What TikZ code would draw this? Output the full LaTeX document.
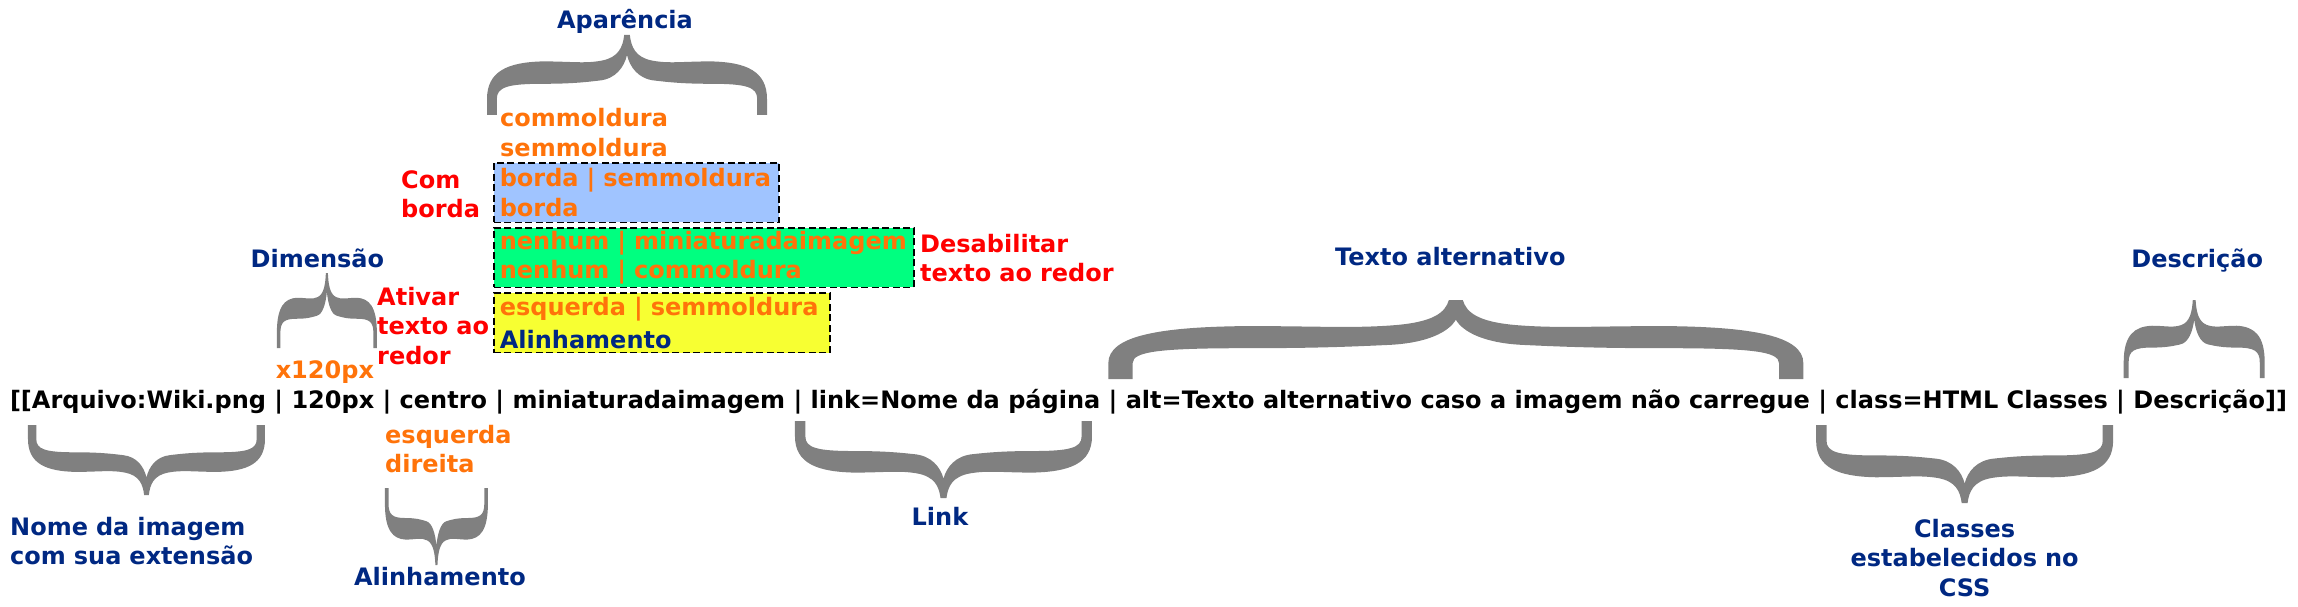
\documentclass[tikz,border=0pt]{standalone}
\usepackage{fontspec}
\setmainfont{DejaVu Sans}
\usepackage{tikz}
\usetikzlibrary{positioning}
\definecolor{azul}{RGB}{0,40,130}
\definecolor{laranja}{RGB}{255,115,10}
\definecolor{vermelho}{RGB}{255,0,0}
\definecolor{cinza}{RGB}{128,128,128}
\definecolor{azulclaro}{RGB}{160,196,255}
\definecolor{verde}{RGB}{0,255,128}
\definecolor{amarelo}{RGB}{247,255,50}
\newcommand{\fonte}{\bfseries\fontsize{24}{29.5}\selectfont}
\newcommand{\barra}{~|~\null}
\tikzstyle{linha} = [inner sep=0pt, outer sep=0pt, font=\fonte]
\tikzstyle{rotulo} = [inner sep=0pt, font=\fonte, text=azul]
\tikzstyle{opcao} = [inner sep=0pt, font=\fonte, text=laranja, align=left]
\tikzstyle{nota} = [inner sep=0pt, font=\fonte, text=vermelho, align=left]
\tikzstyle{caixa} = [draw, line width=1.6pt, dash pattern=on 7pt off 3.5pt, inner xsep=6pt, inner ysep=0pt, minimum height=59.5pt, anchor=north west, font=\fonte, text=laranja, align=left]
\tikzset{chave/.pic={
    \fill[cinza] (-1,0) -- (-1,0.2) .. controls (-1,0.55) and (-0.85,0.66) .. (-0.6,0.67) .. controls (-0.4,0.67) and (-0.3,0.64) .. (-0.18,0.68) .. controls (-0.06,0.72) and (-0.03,0.85) .. (-0.02,1) -- (0.02,1) .. controls (0.03,0.85) and (0.06,0.72) .. (0.18,0.68) .. controls (0.3,0.64) and (0.4,0.67) .. (0.6,0.67) .. controls (0.85,0.66) and (1,0.55) .. (1,0.2) -- (1,0) -- (0.93,0) -- (0.93,0.2) .. controls (0.93,0.35) and (0.85,0.39) .. (0.6,0.39) .. controls (0.4,0.39) and (0.3,0.41) .. (0.2,0.43) .. controls (0.08,0.45) and (0.02,0.6) .. (0,0.75) .. controls (-0.02,0.6) and (-0.08,0.45) .. (-0.2,0.43) .. controls (-0.3,0.41) and (-0.4,0.39) .. (-0.6,0.39) .. controls (-0.85,0.39) and (-0.93,0.35) .. (-0.93,0.2) -- (-0.93,0) -- cycle;
    \coordinate (-ponta) at (0,1);
    \coordinate (-base) at (0,0);
}}

\begin{document}
\begin{tikzpicture}[x=1pt, y=1pt]
        \useasboundingbox (0,0) rectangle (2298,-607);

        \node[linha, anchor=base west] (abre) at (10,-408) {[[};
        \node[linha, base right=0pt of abre] (arq) {Arquivo:Wiki.png};
        \node[linha, base right=0pt of arq] (s1) {\barra};
        \node[linha, base right=0pt of s1] (dim) {120px};
        \node[linha, base right=0pt of dim] (s2) {\barra};
        \node[linha, base right=0pt of s2] (pos) {centro};
        \node[linha, base right=0pt of pos] (s3) {\barra};
        \node[linha, base right=0pt of s3] (mini) {miniaturadaimagem};
        \node[linha, base right=0pt of mini] (s4) {\barra};
        \node[linha, base right=0pt of s4] (link) {link=Nome da página};
        \node[linha, base right=0pt of link] (s5) {\barra};
        \node[linha, base right=0pt of s5] (alt) {alt=Texto alternativo caso a imagem não carregue};
        \node[linha, base right=0pt of alt] (s6) {\barra};
        \node[linha, base right=0pt of s6] (cls) {class=HTML Classes};
        \node[linha, base right=0pt of cls] (s7) {\barra};
        \node[linha, base right=0pt of s7] (desc) {Descrição};
        \node[linha, base right=0pt of desc] (fecha) {]]};

        \pic (chnome) [xscale=118.5, yscale=-70] at ([xshift=-2.5pt, yshift=-17pt]arq.base) {chave};
        \pic (chdim) [xscale=50, yscale=75] at ([xshift=-6pt, yshift=60pt]dim.base) {chave};
        \pic (chpos) [xscale=51.5, yscale=-77] at ([xshift=-7pt, yshift=-80pt]pos.base) {chave};
        \pic (chlink) [xscale=148.5, yscale=-77] at ([xshift=-12pt, yshift=-13pt]link.base) {chave};
        \pic (chalt) [xscale=347.5, yscale=79] at ([xshift=-12pt, yshift=29pt]alt.base) {chave};
        \pic (chcls) [xscale=148.5, yscale=-78] at ([xshift=-7pt, yshift=-17pt]cls.base) {chave};
        \pic (chdesc) [xscale=70.5, yscale=78] at ([xshift=-5pt, yshift=30pt]desc.base) {chave};
        \pic (chapar) [xscale=140, yscale=80] at (627,-115) {chave};

        \node[rotulo, anchor=base] (aparencia) at ([xshift=-2pt, yshift=6pt]chapar-ponta) {Aparência};
        \node[rotulo, anchor=base] (dimensao) at ([xshift=-9.5pt, yshift=6pt]chdim-ponta) {Dimensão};
        \node[rotulo, anchor=base] (textoalt) at ([xshift=-5.5pt, yshift=35pt]chalt-ponta) {Texto alternativo};
        \node[rotulo, anchor=base] (descricao) at ([xshift=3pt, yshift=33pt]chdesc-ponta) {Descrição};
        \node[rotulo, anchor=base] (rlink) at ([xshift=-3.5pt, yshift=-27pt]chlink-ponta) {Link};
        \node[rotulo, anchor=base] (ralin) at ([xshift=3.5pt, yshift=-20pt]chpos-ponta) {Alinhamento};
        \node[rotulo, anchor=base, text width=260pt, align=center] (rclasses) at ([yshift=-34pt]chcls-ponta) {Classes\\estabelecidos no\\CSS};
        \node[rotulo, anchor=base west, text width=270pt, align=left] (rnome) at (10,-535) {Nome da imagem\\com sua extensão};

        \node[caixa, fill=azulclaro, text width=273pt] (cxborda) at (493,-162) {borda | semmoldura\\borda};
        \node[caixa, fill=verde, text width=408pt, below=4pt of cxborda.south west, anchor=north west] (cxnenhum) {nenhum | miniaturadaimagem\\nenhum | commoldura};
        \node[caixa, fill=amarelo, text width=324pt, below=4pt of cxnenhum.south west, anchor=north west] (cxalin) {esquerda | semmoldura\\[3.5pt]{\color{azul}Alinhamento}};

        \node[opcao, text width=200pt, anchor=base west] (moldura) at (500,-127) {commoldura\\semmoldura};
        \node[opcao, text width=150pt, anchor=base west] (lados) at (385,-443) {esquerda\\direita};
        \node[opcao, anchor=base] (altura) at ([xshift=-2pt, yshift=-30pt]chdim-base) {x120px};

        \node[nota, text width=80pt, anchor=base west] (comborda) at (401,-188) {Com\\borda};
        \node[nota, text width=200pt, anchor=base west] (desab) at (920,-252) {Desabilitar\\texto ao redor};
        \node[nota, text width=120pt, anchor=base west] (ativar) at (377,-305) {Ativar\\texto ao\\redor};

    \end{tikzpicture}
\end{document}
